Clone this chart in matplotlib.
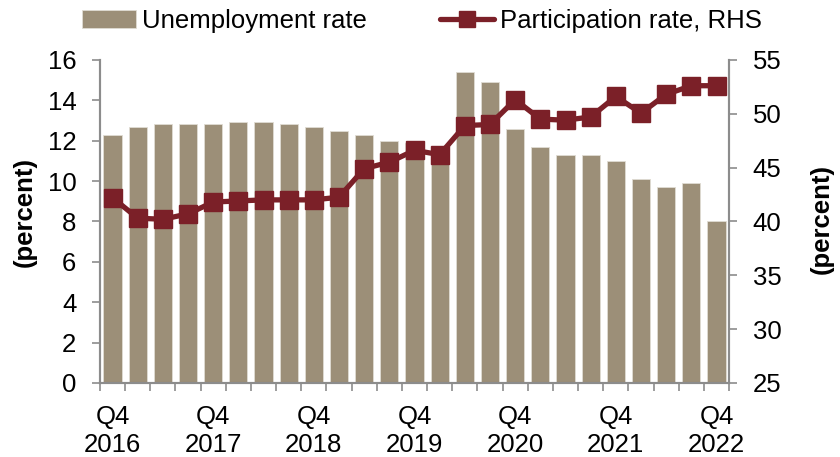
import numpy as np
import matplotlib
matplotlib.use("Agg")
from matplotlib import pyplot as plt

plt.rcParams['font.family'] = ['Liberation Sans', 'DejaVu Sans']

quarters = ["Q4 2016", "Q1 2017", "Q2 2017", "Q3 2017", "Q4 2017",
            "Q1 2018", "Q2 2018", "Q3 2018", "Q4 2018",
            "Q1 2019", "Q2 2019", "Q3 2019", "Q4 2019",
            "Q1 2020", "Q2 2020", "Q3 2020", "Q4 2020",
            "Q1 2021", "Q2 2021", "Q3 2021", "Q4 2021",
            "Q1 2022", "Q2 2022", "Q3 2022", "Q4 2022"]
unemployment = [12.3, 12.7, 12.8, 12.8, 12.8, 12.9, 12.9, 12.8, 12.7, 12.5,
                12.3, 12.0, 11.9, 11.0, 15.4, 14.9, 12.6, 11.7, 11.3, 11.3,
                11.0, 10.1, 9.7, 9.9, 8.0]
participation = [42.2, 40.3, 40.2, 40.7, 41.8, 41.9, 42.0, 42.0, 42.0, 42.25,
                 44.9, 45.5, 46.6, 46.2, 48.9, 49.0, 51.3, 49.5, 49.4, 49.7,
                 51.6, 50.05, 51.8, 52.6, 52.6]
tick_labels = ["Q4\n2016", "Q4\n2017", "Q4\n2018", "Q4\n2019",
               "Q4\n2020", "Q4\n2021", "Q4\n2022"]

bar_col = '#9c8f78'
line_col = '#7b2028'
axis_col = '#8c8c8c'
fs = 18.5

x = np.arange(len(quarters))

fig = plt.figure(figsize=(8.4, 4.57), dpi=100)
ax = fig.add_axes([0.119, 0.162, 0.749, 0.707])
ax2 = ax.twinx()

bars = ax.bar(x, unemployment, width=0.72, color=bar_col,
              edgecolor='#e0dcd3', linewidth=0.6, zorder=2)
ln, = ax2.plot(x, participation, color=line_col, lw=3.8, marker='s', ms=13,
               solid_capstyle='round', zorder=3)

ax.set_xlim(-0.5, len(quarters) - 0.5)
ax.set_ylim(0, 16)
ax.set_yticks(range(0, 17, 2))
ax2.set_ylim(25, 55)
ax2.set_yticks(range(25, 56, 5))

ax.set_xticks(x[::4])
ax.set_xticklabels(tick_labels)
ax.set_xticks(np.arange(-0.5, len(quarters), 1), minor=True)
ax.tick_params(axis='x', which='major', length=0, pad=16, labelsize=fs)
ax.tick_params(axis='x', which='minor', length=6, width=1.2, color=axis_col)
ax.tick_params(axis='y', length=6, width=1.2, color=axis_col, labelsize=fs, pad=11)
ax2.tick_params(axis='y', length=6, width=1.2, color=axis_col, labelsize=fs, pad=11)

for a in (ax, ax2):
    a.spines['top'].set_visible(False)
    for s in ('left', 'right', 'bottom'):
        a.spines[s].set_color(axis_col)
        a.spines[s].set_linewidth(1.5)

fig.text(25 / 840, 1 - 212 / 457, "(percent)", fontsize=fs, fontweight='bold',
         rotation=90, ha='center', va='center')
fig.text(822 / 840, 1 - 219 / 457, "(percent)", fontsize=fs, fontweight='bold',
         rotation=90, ha='center', va='center')

ax.set_zorder(ax2.get_zorder() - 1)
ax.patch.set_visible(False)

fig.legend([bars, ln], ["Unemployment rate", "Participation rate, RHS"],
           loc='upper left', bbox_to_anchor=(82 / 840, 1 - 9 / 457), ncol=2,
           frameon=False, borderpad=0, borderaxespad=0,
           fontsize=fs, handlelength=2.1, handletextpad=0.23, columnspacing=2.85,
           markerscale=0.9)

plt.savefig("out.png", dpi=100)
